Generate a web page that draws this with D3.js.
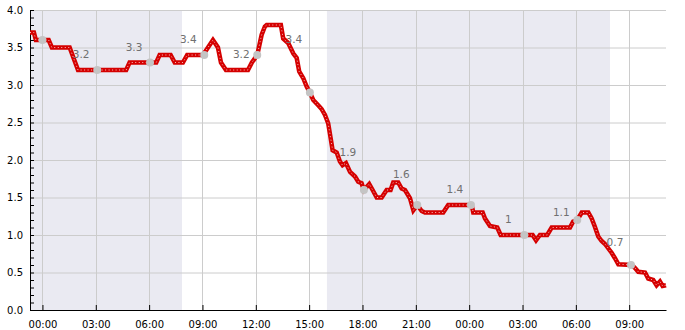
<!DOCTYPE html>
<html>
<head>
<meta charset="utf-8">
<script src="https://cdn.jsdelivr.net/npm/d3@7"></script>
<style>
  body { margin: 0; background: #fff; }
  text { font-family: "DejaVu Sans", sans-serif; }
</style>
</head>
<body>
<div id="vis"></div>
<script>
// frame size and margins
const FRAME_WIDTH = 685;
const FRAME_HEIGHT = 330;
const MARGINS = {left: 30, right: 19, top: 10, bottom: 20};

// hours counted from 00:00 of the first day
const lineHours = [-0.70, -0.48, -0.37, 0.35, 0.53, 1.53, 2.00, 4.71, 4.90, 6.40, 6.59, 7.21, 7.44, 7.90, 8.14, 9.03,
  9.59, 9.87, 10.04, 10.32, 11.56, 11.78, 12.08, 12.33, 12.51, 12.61, 13.41, 13.54, 13.82, 14.11, 14.30, 14.44,
  14.67, 14.86, 15.04, 15.23, 15.51, 15.70, 15.89, 16.07, 16.21, 16.32, 16.55, 16.73, 16.88, 17.07, 17.30, 17.58,
  17.76, 17.95, 18.08, 18.38, 18.57, 18.80, 19.08, 19.36, 19.58, 19.73, 20.01, 20.20, 20.39, 20.67, 20.86, 21.08,
  21.33, 21.51, 22.54, 22.82, 24.14, 24.23, 24.76, 24.89, 25.17, 25.58, 25.77, 27.57, 27.76, 27.98, 28.39, 28.64,
  29.67, 29.85, 30.08, 30.33, 30.70, 30.89, 31.07, 31.26, 31.45, 31.64, 31.83, 32.02, 32.20, 32.39, 33.14, 33.33,
  33.51, 33.89, 34.07, 34.35, 34.54, 34.73, 34.88, 35.07];
const lineValues = [3.7, 3.7, 3.6, 3.6, 3.5, 3.5, 3.2, 3.2, 3.3, 3.3, 3.4, 3.4, 3.3, 3.3, 3.4, 3.4,
  3.6, 3.5, 3.3, 3.2, 3.2, 3.3, 3.4, 3.67, 3.78, 3.8, 3.8, 3.62, 3.56, 3.42, 3.36, 3.18,
  3.09, 2.98, 2.9, 2.8, 2.73, 2.68, 2.6, 2.49, 2.29, 2.13, 2.1, 1.98, 1.93, 1.96, 1.84, 1.78,
  1.71, 1.69, 1.6, 1.68, 1.6, 1.5, 1.5, 1.6, 1.6, 1.7, 1.7, 1.62, 1.6, 1.49, 1.33, 1.4,
  1.32, 1.3, 1.3, 1.4, 1.4, 1.3, 1.3, 1.22, 1.12, 1.1, 1.0, 1.0, 0.93, 1.0, 1.0, 1.1,
  1.1, 1.18, 1.2, 1.3, 1.3, 1.22, 1.11, 0.98, 0.92, 0.88, 0.82, 0.76, 0.69, 0.61, 0.6, 0.56,
  0.51, 0.5, 0.42, 0.4, 0.33, 0.38, 0.32, 0.33];

// grey marker points every three hours
const markHours = [0, 3.08, 6.05, 9.1, 12.08, 15.04, 18.08, 21.08, 24.1, 27.1, 30.08, 33.1];
const markValues = [3.6, 3.2, 3.3, 3.4, 3.4, 2.9, 1.6, 1.4, 1.4, 1.0, 1.2, 0.6];

// labels next to the marker points
const labelHours = [3.08, 6.05, 9.1, 12.08, 15.04, 18.08, 21.08, 24.1, 27.1, 30.08, 33.1];
const labelTexts = ["3.2", "3.3", "3.4", "3.2", "3.4", "1.9", "1.6", "1.4", "1", "1.1", "0.7"];

// shaded night periods
const bandStart = [-0.7, 16.0];
const bandEnd = [7.85, 31.92];

// axis ticks
const xTickHours = [0, 3, 6, 9, 12, 15, 18, 21, 24, 27, 30, 33];
const xTickLabels = ["00:00", "03:00", "06:00", "09:00", "12:00", "15:00", "18:00", "21:00", "00:00", "03:00", "06:00", "09:00"];
const yTicks = [0, 0.5, 1.0, 1.5, 2.0, 2.5, 3.0, 3.5, 4.0];

const VIS_WIDTH = FRAME_WIDTH - MARGINS.left - MARGINS.right;
const VIS_HEIGHT = FRAME_HEIGHT - MARGINS.top - MARGINS.bottom;

const svg = d3.select("#vis")
  .append("svg")
    .attr("width", FRAME_WIDTH)
    .attr("height", FRAME_HEIGHT);

const X_SCALE = d3.scaleLinear().domain([-0.7, 35.07]).range([0, VIS_WIDTH]);
const Y_SCALE = d3.scaleLinear().domain([0, 4]).range([VIS_HEIGHT, 0]);

const g = svg.append("g")
  .attr("transform", "translate(" + MARGINS.left + "," + MARGINS.top + ")");

// night bands
g.selectAll(".band")
  .data(d3.range(bandStart.length))
  .enter()
  .append("rect")
    .attr("x", (i) => X_SCALE(bandStart[i]))
    .attr("width", (i) => X_SCALE(bandEnd[i]) - X_SCALE(bandStart[i]))
    .attr("y", 0)
    .attr("height", VIS_HEIGHT)
    .attr("fill", "#eaeaf2");

// grid
g.selectAll(".hgrid")
  .data(yTicks)
  .enter()
  .append("line")
    .attr("x1", 0).attr("x2", VIS_WIDTH)
    .attr("y1", (d) => Y_SCALE(d) + 0.5).attr("y2", (d) => Y_SCALE(d) + 0.5)
    .attr("stroke", "#cccccc");

g.selectAll(".vgrid")
  .data(xTickHours)
  .enter()
  .append("line")
    .attr("x1", (d) => Math.round(X_SCALE(d)) + 0.5).attr("x2", (d) => Math.round(X_SCALE(d)) + 0.5)
    .attr("y1", 0).attr("y2", VIS_HEIGHT)
    .attr("stroke", "#cccccc");

// axes
const xAxis = d3.axisBottom(X_SCALE)
  .tickValues(xTickHours)
  .tickFormat((d, i) => xTickLabels[i])
  .tickSizeInner(-5)
  .tickSizeOuter(0)
  .tickPadding(11);

g.append("g")
  .attr("transform", "translate(0," + VIS_HEIGHT + ")")
  .call(xAxis)
  .call((a) => a.select(".domain").attr("stroke", "#000"))
  .selectAll("text")
    .attr("font-size", "10px")
    .attr("fill", "#000");

const yAxis = d3.axisLeft(Y_SCALE)
  .tickValues(d3.range(0, 41).map((d) => d / 10))
  .tickFormat((d) => (Math.round(d * 10) % 5 === 0) ? d.toFixed(1) : "")
  .tickSizeInner(-4)
  .tickSizeOuter(0)
  .tickPadding(7);

g.append("g")
  .call(yAxis)
  .call((a) => a.select(".domain").attr("stroke", "#000"))
  .selectAll("text")
    .attr("font-size", "10px")
    .attr("fill", "#000");

// data line
const lineData = lineHours.map((h, i) => [h, lineValues[i]]);
const line = d3.line()
  .x((d) => X_SCALE(d[0]))
  .y((d) => Y_SCALE(d[1]));

g.append("path")
  .datum(lineData)
  .attr("d", line)
  .attr("fill", "none")
  .attr("stroke", "#d50000")
  .attr("stroke-width", 4.5)
  .attr("stroke-linejoin", "miter");

g.append("path")
  .datum(lineData)
  .attr("d", line)
  .attr("fill", "none")
  .attr("stroke", "#ffffff")
  .attr("stroke-width", 1)
  .attr("stroke-opacity", 0.75)
  .attr("stroke-dasharray", "1,2.5");

// grey markers
g.selectAll(".mark")
  .data(markHours)
  .enter()
  .append("circle")
    .attr("cx", (d) => X_SCALE(d))
    .attr("cy", (d, i) => Y_SCALE(markValues[i]))
    .attr("r", 4)
    .attr("fill", "#c4c4c4");

// value labels
g.selectAll(".lbl")
  .data(labelHours)
  .enter()
  .append("text")
    .attr("x", (d) => X_SCALE(d) - 16)
    .attr("y", (d, i) => Y_SCALE(+labelTexts[i]) - 12)
    .attr("text-anchor", "middle")
    .attr("font-size", "10.5px")
    .attr("fill", "#707070")
    .text((d, i) => labelTexts[i]);
</script>
</body>
</html>
